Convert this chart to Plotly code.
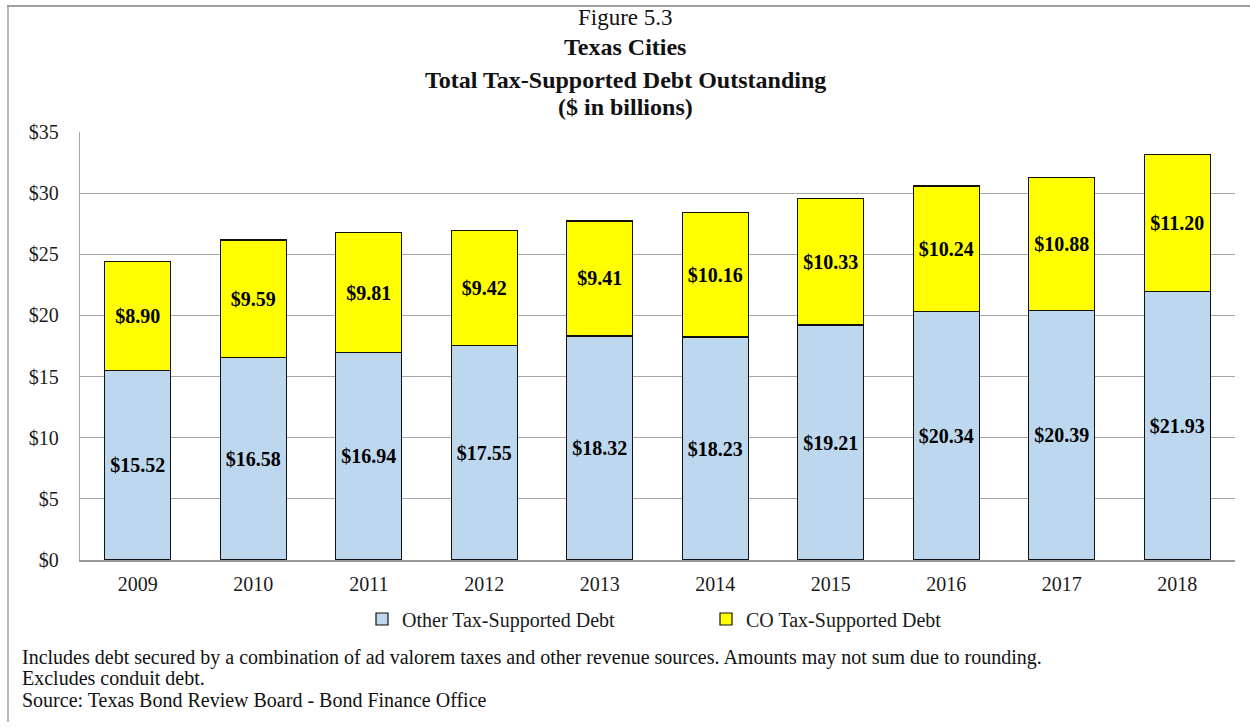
import plotly.graph_objects as go

years = ["2009", "2010", "2011", "2012", "2013", "2014", "2015", "2016", "2017", "2018"]
other_debt = [15.52, 16.58, 16.94, 17.55, 18.32, 18.23, 19.21, 20.34, 20.39, 21.93]
co_debt = [8.90, 9.59, 9.81, 9.42, 9.41, 10.16, 10.33, 10.24, 10.88, 11.20]
y_ticks = [0, 5, 10, 15, 20, 25, 30, 35]
y_tick_labels = ["$" + str(v) for v in y_ticks]

SERIF = "Liberation Serif"
INK = "#1a1a1a"

# plot-area geometry (pixels) used to place paper-referenced annotations
L, R, T, B = 80, 15, 132, 167
W, H = 1250 - L - R, 727 - T - B


def px_x(x):
    return (x - L) / W


def px_y(y):
    return (727 - B - y) / H


fig = go.Figure()
fig.add_trace(go.Bar(
    x=years, y=other_debt, name="Other Tax-Supported Debt",
    marker=dict(color="#bdd7ee", line=dict(color="#111111", width=1.2)),
    text=[f"${v:.2f}" for v in other_debt], textposition="inside",
    insidetextanchor="middle",
    textfont=dict(family=SERIF, size=20, color="black", weight="bold"),
))
fig.add_trace(go.Bar(
    x=years, y=co_debt, name="CO Tax-Supported Debt",
    marker=dict(color="#ffff00", line=dict(color="#111111", width=1.2)),
    text=[f"${v:.2f}" for v in co_debt], textposition="inside",
    insidetextanchor="middle",
    textfont=dict(family=SERIF, size=20, color="black", weight="bold"),
))

fig.update_layout(
    barmode="stack", bargap=0.43,
    width=1250, height=727,
    margin=dict(l=L, r=R, t=T, b=B),
    paper_bgcolor="white", plot_bgcolor="white",
    font=dict(family=SERIF, size=20, color=INK),
    showlegend=True,
    legend=dict(orientation="h", x=px_x(362), y=px_y(619), xanchor="left", yanchor="middle",
                font=dict(family=SERIF, size=20, color=INK),
                traceorder="normal", itemwidth=30, entrywidth=299),
    uniformtext=dict(mode="show", minsize=10),
)
fig.update_xaxes(showgrid=False, showline=True, linecolor="#999999", linewidth=1.5,
                 ticks="", ticklabelstandoff=5,
                 tickfont=dict(family=SERIF, size=20, color=INK))
fig.update_yaxes(range=[0, 35], tickvals=y_ticks, ticktext=y_tick_labels,
                 showgrid=True, gridcolor="#a6a6a6", gridwidth=1.3,
                 showline=True, linecolor="#a6a6a6", linewidth=1.3, zeroline=False,
                 ticks="", ticklabelstandoff=16,
                 tickfont=dict(family=SERIF, size=20, color=INK))

# Title block
titles = [
    ("Figure 5.3", 23, 18),
    ("<b>Texas Cities</b>", 24, 47),
    ("<b>Total Tax-Supported Debt Outstanding</b>", 24, 80),
    ("<b>($ in billions)</b>", 24, 107),
]
for text, size, ypx in titles:
    fig.add_annotation(text=text, xref="paper", yref="paper",
                       x=px_x(625), y=px_y(ypx),
                       showarrow=False, xanchor="center", yanchor="middle",
                       font=dict(family=SERIF, size=size, color="#111111"))

# Footnotes
notes = [
    ("Includes debt secured by a combination of ad valorem taxes and other revenue sources. Amounts may not sum due to rounding.", 657),
    ("Excludes conduit debt.", 678),
    ("Source: Texas Bond Review Board - Bond Finance Office", 700),
]
for text, ypx in notes:
    fig.add_annotation(text=text, xref="paper", yref="paper",
                       x=px_x(20), y=px_y(ypx),
                       showarrow=False, xanchor="left", yanchor="middle",
                       font=dict(family=SERIF, size=20, color="#111111"))

# Outer frame: top and left edges
fig.add_shape(type="line", xref="paper", yref="paper",
              x0=px_x(7), x1=px_x(1250), y0=px_y(6), y1=px_y(6),
              line=dict(color="#a0a0a0", width=2))
fig.add_shape(type="line", xref="paper", yref="paper",
              x0=px_x(8), x1=px_x(8), y0=px_y(6), y1=px_y(722),
              line=dict(color="#a0a0a0", width=1.5))

fig.write_html("out.html")
